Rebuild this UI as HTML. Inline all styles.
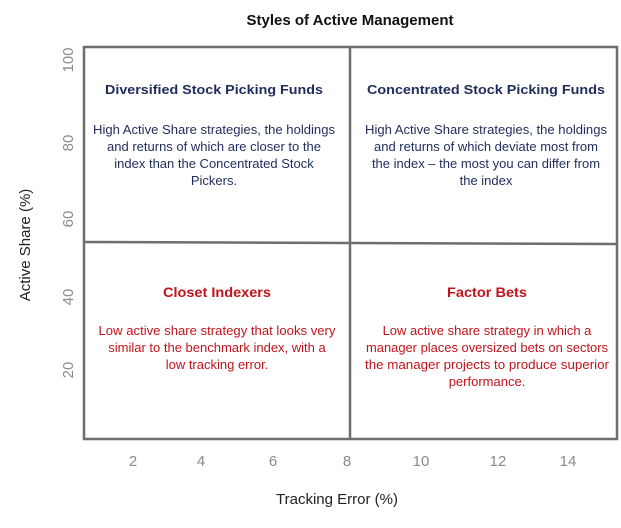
<!DOCTYPE html>
<html><head><meta charset="utf-8"><style>
body{margin:0;width:621px;height:523px;background:#fff;overflow:hidden}
svg text{font-family:"Liberation Sans",sans-serif}
</style></head><body>
<svg width="621" height="523" viewBox="0 0 621 523" xmlns="http://www.w3.org/2000/svg">
<text x="350" y="25" text-anchor="middle" font-size="15" font-weight="bold" fill="#111">Styles of Active Management</text>
<g stroke="#6e6e6e" stroke-width="2.5" fill="none">
<rect x="84" y="47" width="533" height="392"/>
<line x1="350" y1="47" x2="350" y2="439"/>
<line x1="84" y1="242" x2="617" y2="244"/>
</g>
<g font-size="13" font-weight="bold" text-anchor="middle">
<text x="214" y="94" fill="#1f2d5c" textLength="218" lengthAdjust="spacingAndGlyphs">Diversified Stock Picking Funds</text>
<text x="486" y="94" fill="#1f2d5c" textLength="238" lengthAdjust="spacingAndGlyphs">Concentrated Stock Picking Funds</text>
<text x="217" y="297" fill="#c0141c" font-size="14" textLength="108" lengthAdjust="spacingAndGlyphs">Closet Indexers</text>
<text x="487" y="297" fill="#c0141c" font-size="14" textLength="80" lengthAdjust="spacingAndGlyphs">Factor Bets</text>
</g>
<g font-size="13" text-anchor="middle" fill="#1f2d5c">
<text x="214" y="134" textLength="242" lengthAdjust="spacingAndGlyphs">High Active Share strategies, the holdings</text>
<text x="214" y="151">and returns of which are closer to the</text>
<text x="214" y="168">index than the Concentrated Stock</text>
<text x="214" y="185">Pickers.</text>
<text x="486" y="134" textLength="242" lengthAdjust="spacingAndGlyphs">High Active Share strategies, the holdings</text>
<text x="486" y="151">and returns of which deviate most from</text>
<text x="486" y="168">the index – the most you can differ from</text>
<text x="486" y="185">the index</text>
</g>
<g font-size="13" text-anchor="middle" fill="#c0141c">
<text x="217" y="335" textLength="237" lengthAdjust="spacingAndGlyphs">Low active share strategy that looks very</text>
<text x="217" y="352">similar to the benchmark index, with a</text>
<text x="217" y="369">low tracking error.</text>
<text x="487" y="335">Low active share strategy in which a</text>
<text x="487" y="352" textLength="242" lengthAdjust="spacingAndGlyphs">manager places oversized bets on sectors</text>
<text x="487" y="369" textLength="244" lengthAdjust="spacingAndGlyphs">the manager projects to produce superior</text>
<text x="487" y="386">performance.</text>
</g>
<g font-size="15" fill="#8a8a8a" text-anchor="middle">
<text x="133" y="466">2</text><text x="201" y="466">4</text><text x="273" y="466">6</text><text x="347" y="466">8</text>
<text x="421" y="466">10</text><text x="498" y="466">12</text><text x="568" y="466">14</text>
<text transform="translate(73,60) rotate(-90)">100</text>
<text transform="translate(73,143) rotate(-90)">80</text>
<text transform="translate(73,219) rotate(-90)">60</text>
<text transform="translate(73,297) rotate(-90)">40</text>
<text transform="translate(73,370) rotate(-90)">20</text>
</g>
<text x="337" y="504" text-anchor="middle" font-size="15" fill="#222">Tracking Error (%)</text>
<text transform="translate(30,245) rotate(-90)" text-anchor="middle" font-size="15" fill="#222">Active Share (%)</text>
</svg>
</body></html>
